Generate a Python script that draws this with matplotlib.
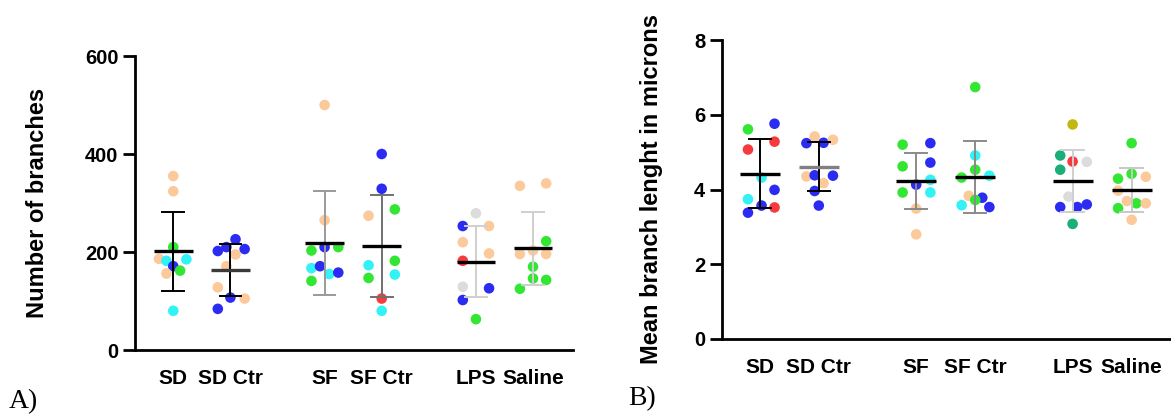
import numpy as np
import matplotlib
matplotlib.use("Agg")
import matplotlib.pyplot as plt

# ---------------- data ----------------
groups = ["SD", "SD Ctr", "SF", "SF Ctr", "LPS", "Saline"]

# Panel A: number of branches
branches_SD = [355, 324, 210, 186, 182, 185, 171, 162, 156, 80]
branches_SDCtr = [226, 210, 202, 206, 195, 171, 128, 107, 105, 84]
branches_SF = [500, 265, 210, 203, 210, 167, 171, 155, 158, 141]
branches_SFCtr = [400, 329, 287, 274, 182, 173, 154, 147, 105, 80]
branches_LPS = [279, 253, 253, 220, 197, 182, 129, 126, 102, 63]
branches_Saline = [335, 340, 222, 196, 203, 196, 170, 146, 143, 125]

# Panel B: mean branch length (microns)
length_SD = [5.76, 5.61, 5.28, 5.07, 4.32, 3.99, 3.74, 3.57, 3.52, 3.38]
length_SDCtr = [5.42, 5.24, 5.25, 5.33, 4.35, 4.38, 4.37, 4.17, 3.96, 3.57]
length_SF = [5.20, 5.24, 4.62, 4.72, 4.26, 4.13, 3.92, 3.92, 3.49, 2.80]
length_SFCtr = [6.74, 4.91, 4.53, 4.32, 4.37, 3.83, 3.78, 3.72, 3.58, 3.53]
length_LPS = [5.74, 4.91, 4.75, 4.74, 4.53, 3.81, 3.53, 3.53, 3.60, 3.08]
length_Saline = [5.24, 4.42, 4.34, 4.29, 3.97, 3.69, 3.63, 3.63, 3.50, 3.19]

# point identity colours (codes)
colA_SD = "PPGPCCBGPC"
colA_SDCtr = "BBBBPPPBPB"
colA_SF = "PPBGGCBCBG"
colA_SFCtr = "BBGPGCCGRC"
colA_LPS = "LBPPPRLBBG"
colA_Saline = "PPGPPPGGGG"
colB_SD = "BGRRCBCBRB"
colB_SDCtr = "PBBPPBBPBB"
colB_SF = "GBGBCBGCPP"
colB_SFCtr = "GCGGCPBGCB"
colB_LPS = "OTRLTLBBBT"
colB_Saline = "GGPGPPGPGP"

# ---------------- styles / layout ----------------
palette = {"P": "#FCC99A", "B": "#2B2BF2", "G": "#33E633", "C": "#33F2F5",
           "R": "#F53B3B", "L": "#DCDCDC", "T": "#1AAE78", "O": "#C2B80E"}

positions = [0, 1, 2.65, 3.65, 5.3, 6.3]

jitA = [
    [0, 0, 0, -0.25, -0.12, 0.23, 0, 0.12, -0.12, 0],
    [0.09, -0.07, -0.22, 0.25, 0.09, -0.07, -0.22, 0, 0.25, -0.22],
    [0, 0, 0, -0.23, 0.24, -0.23, -0.08, 0.08, 0.24, -0.23],
    [0, 0, 0.23, -0.23, 0.23, -0.23, 0.23, -0.23, 0, 0],
    [0, -0.23, 0.23, -0.23, 0.23, -0.23, -0.23, 0.23, -0.23, 0],
    [-0.23, 0.23, 0.23, -0.23, 0, 0.23, 0, 0, 0.23, -0.23],
]
jitB = [
    [0.25, -0.2, 0.25, -0.2, 0.03, 0.25, -0.2, 0.03, 0.25, -0.2],
    [-0.07, -0.21, 0.08, 0.24, -0.21, -0.07, 0.24, 0.08, -0.07, 0],
    [-0.23, 0.24, -0.23, 0.24, 0.24, 0, -0.23, 0.24, 0, 0],
    [0, 0, 0, -0.23, 0.24, -0.11, 0.12, 0, -0.23, 0.24],
    [0, -0.21, 0, 0.24, -0.21, -0.07, -0.21, 0.08, 0.24, 0],
    [0, 0, 0.24, -0.23, -0.23, -0.08, 0.08, 0.24, -0.23, 0],
]

meanA_col = ["#000000", "#3a3a3a", "#000000", "#000000", "#000000", "#000000"]
errA_col = ["#000000", "#000000", "#9a9a9a", "#707070", "#cfcfcf", "#cfcfcf"]
meanB_col = ["#000000", "#808080", "#000000", "#000000", "#000000", "#000000"]
errB_col = ["#000000", "#000000", "#8a8a8a", "#8a8a8a", "#cfcfcf", "#c8c8c8"]

plt.rcParams["font.family"] = ["Liberation Sans", "DejaVu Sans"]

fig = plt.figure(figsize=(11.71, 4.17), dpi=100)
axA = fig.add_axes([135 / 1171, 1 - 350 / 417, 438 / 1171, 294 / 417])
axB = fig.add_axes([722 / 1171, 1 - 339 / 417, 448 / 1171, 299 / 417])


def draw(ax, data, cols, jit, mcol, ecol):
    for i, (vals, cc, jj) in enumerate(zip(data, cols, jit)):
        x = positions[i] + np.array(jj)
        ax.scatter(x, vals, s=58, c=[palette[c] for c in cc], edgecolors="none",
                   zorder=2, clip_on=False)
        m = np.mean(vals)
        sd = np.std(vals, ddof=1)
        p = positions[i]
        ax.plot([p, p], [m - sd, m + sd], color=ecol[i], lw=1.4, zorder=3)
        ax.plot([p - 0.19, p + 0.19], [m + sd] * 2, color=ecol[i], lw=1.4, zorder=3)
        ax.plot([p - 0.19, p + 0.19], [m - sd] * 2, color=ecol[i], lw=1.4, zorder=3)
        ax.plot([p - 0.34, p + 0.34], [m, m], color=mcol[i], lw=2.4, zorder=4,
                solid_capstyle="butt")


def style(ax, ticks, label, xlim, labx):
    ax.set_xlim(*xlim)
    ax.set_ylim(ticks[0], ticks[-1])
    ax.set_yticks(ticks)
    ax.set_yticklabels([str(t) for t in ticks], fontsize=14.5, fontweight="bold")
    ax.set_xticks(positions)
    ax.set_xticklabels(groups, fontsize=15, fontweight="bold")
    ax.tick_params(axis="x", length=0, pad=13.5)
    ax.tick_params(axis="y", length=8.5, width=2.0, pad=3.5)
    for s in ["top", "right"]:
        ax.spines[s].set_visible(False)
    for s in ["left", "bottom"]:
        ax.spines[s].set_linewidth(2.0)
    ax.set_ylabel(label, fontsize=17, fontweight="bold")
    ax.yaxis.set_label_coords(labx, 0.5)


dataA = [branches_SD, branches_SDCtr, branches_SF, branches_SFCtr, branches_LPS, branches_Saline]
colsA = [colA_SD, colA_SDCtr, colA_SF, colA_SFCtr, colA_LPS, colA_Saline]
dataB = [length_SD, length_SDCtr, length_SF, length_SFCtr, length_LPS, length_Saline]
colsB = [colB_SD, colB_SDCtr, colB_SF, colB_SFCtr, colB_LPS, colB_Saline]

draw(axA, dataA, colsA, jitA, meanA_col, errA_col)
draw(axB, dataB, colsB, jitB, meanB_col, errB_col)
style(axA, [0, 200, 400, 600], "Number of branches", (-0.67, 7.0), -0.197)
style(axB, [0, 2, 4, 6, 8], "Mean branch lenght in microns", (-0.64, 6.95), -0.132)

fig.text(9 / 1171, 1 - 402 / 417, "A)", fontsize=20, family="Liberation Serif", va="center")
fig.text(628 / 1171, 1 - 399 / 417, "B)", fontsize=20, family="Liberation Serif", va="center")

fig.savefig("out.png", dpi=100)
